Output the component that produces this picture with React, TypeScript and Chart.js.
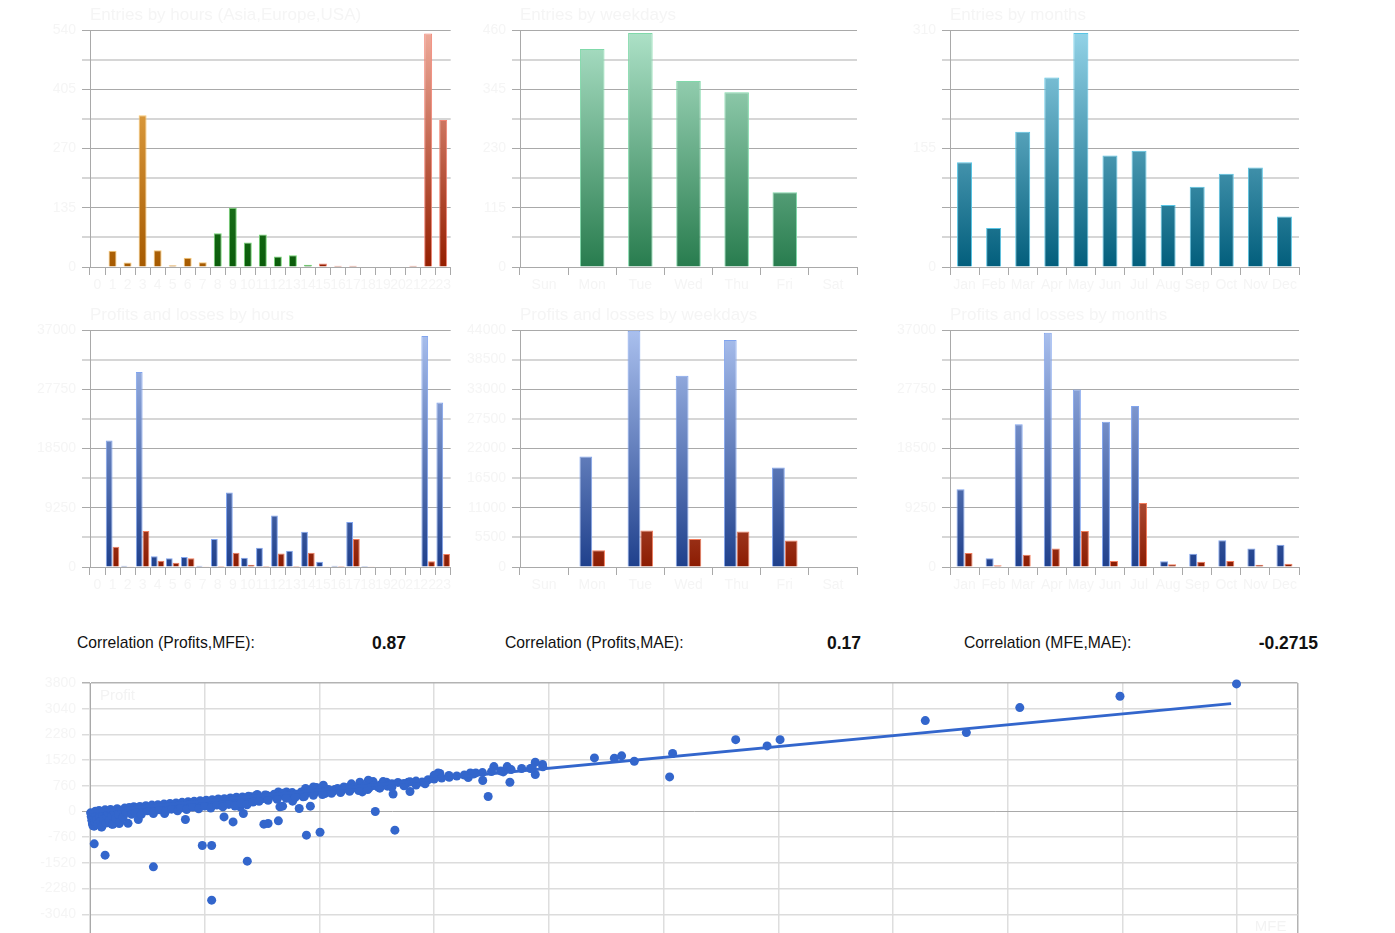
import { useEffect, useRef } from "react";
import { Chart, registerables } from "chart.js";

Chart.register(...registerables);
Chart.defaults.font.family = "'Liberation Sans', Arial, sans-serif";

// ---- categories ----
const HOUR_LABELS = ["0", "1", "2", "3", "4", "5", "6", "7", "8", "9", "10", "11", "12", "13", "14", "15", "16", "17", "18", "19", "20", "21", "22", "23"];
const WEEKDAY_LABELS = ["Sun", "Mon", "Tue", "Wed", "Thu", "Fri", "Sat"];
const MONTH_LABELS = ["Jan", "Feb", "Mar", "Apr", "May", "Jun", "Jul", "Aug", "Sep", "Oct", "Nov", "Dec"];

// ---- entries ----
const ENTRIES_BY_HOUR = [0, 37, 10, 346, 38, 4, 21, 11, 77, 135, 56, 74, 24, 27, 5, 8, 3, 3, 0, 0, 0, 3, 532, 335];
const ENTRIES_BY_WEEKDAY = [0, 423, 454, 361, 339, 145, 0];
const ENTRIES_BY_MONTH = [137, 51, 177, 248, 306, 146, 152, 81, 105, 122, 130, 66];

// ---- profits / losses ----
const PROFIT_BY_HOUR = [0, 19750, 200, 30430, 1670, 1360, 1560, 200, 4380, 11620, 1460, 3020, 8030, 2550, 5520, 830, 200, 7040, 150, 0, 0, 0, 36060, 25690];
const LOSS_BY_HOUR = [0, 3180, 50, 5630, 990, 680, 1360, 100, 150, 2240, 370, 150, 2090, 150, 2240, 100, 150, 4380, 50, 0, 0, 0, 890, 2030];
const PROFIT_BY_WEEKDAY = [0, 20510, 43880, 35510, 42140, 18470, 0];
const LOSS_BY_WEEKDAY = [0, 3100, 6760, 5210, 6570, 4900, 0];
const PROFIT_BY_MONTH = [12140, 1360, 22300, 36580, 27720, 22670, 25120, 890, 2080, 4170, 2870, 3490];
const LOSS_BY_MONTH = [2190, 260, 1930, 2870, 5630, 940, 10010, 420, 830, 940, 370, 520];

// ---- correlations ----
const CORRELATIONS = [
  { label: "Correlation (Profits,MFE):", value: "0.87" },
  { label: "Correlation (Profits,MAE):", value: "0.17" },
  { label: "Correlation (MFE,MAE):", value: "-0.2715" },
];

// ---- scatter: [MFE, Profit] ----
const MFE_PROFIT: [number, number][] = [
  [3798, 3773], [3412, 3407], [3080, 3073], [2903, 2334], [2767, 2689],
  [2286, 2125], [2243, 1939], [2139, 2125], [1930, 1714], [1920, 1022],
  [1803, 1486], [1761, 1646], [1737, 1575], [1671, 1584],
  [1499, 1389], [1475, 1457], [1475, 1093], [1459, 1271], [1391, 866], [1382, 1329],
  [1369, 1170], [1338, 1329], [1319, 443], [1301, 917], [1278, 1141], [1260, 1141],
  [1253, 1005], [1189, 1064], [1159, 1123], [1153, 1141], [1140, 1073],
  [1054, 866], [1060, 591], [1045, 811], [1004, 517], [1010, -552], [945, 0],
  [982, 866], [971, 885], [960, 777], [938, 885], [922, 925], [902, 580], [894, 866],
  [866, 817], [841, 728], [811, 650], [778, 532], [773, 777], [750, 709], [740, 728],
  [762, -612], [717, -700], [730, 157], [714, 680], [706, 433], [695, 502], [693, 89],
  [671, 305], [651, 580], [638, 157], [629, 137], [624, -277], [624, 580], [590, -355],
  [576, -375], [585, 482], [574, 384], [554, 502], [535, 433], [521, -1469], [508, -59],
  [497, 137], [486, 236], [474, -307], [444, -160], [403, -1005], [372, -1005], [403, -2621],
  [316, -236], [247, -59], [210, -1637], [210, -59], [160, -236], [50, -1291], [14, -957],
  [97, -355], [72, -375], [39, -454], [14, -434],
  // dense cluster near the origin
  [2, -40], [4, -150], [6, -260], [8, -360], [10, -420], [12, -90], [14, -200], [16, -310],
  [18, 10], [20, -130], [22, -240], [25, -380], [27, -60], [30, 30], [32, -170], [35, -290],
  [38, -460], [40, -20], [43, -110], [46, -230], [50, 50], [53, -340], [56, -150], [60, -40],
  [64, -260], [68, 60], [72, -120], [76, -380], [80, -10], [85, -200], [90, 80], [95, -90],
  [100, -300], [105, 40], [110, -160], [115, 100], [120, -30], [126, -350], [130, 120], [138, -80],
  // upper band
  [145, 140], [155, 100], [165, 150], [175, 60], [185, 170], [195, 120], [205, 190], [215, 110],
  [225, 200], [235, 150], [245, 220], [255, 130], [265, 240], [275, 180], [285, 250], [295, 200],
  [305, 270], [315, 210], [325, 290], [335, 240], [345, 300], [355, 250], [365, 320], [375, 270],
  [385, 335], [395, 290], [405, 350], [415, 300], [425, 370], [435, 320], [445, 380], [455, 340],
  [465, 400], [475, 350], [485, 420], [495, 370], [505, 430], [515, 390], [525, 450], [535, 400],
  [150, -30], [170, -80], [190, 20], [210, -20], [230, 50], [250, 0], [270, 70], [290, 20],
  [300, 100], [320, 60], [340, 130], [360, 80], [380, 160], [400, 100], [420, 190], [440, 140],
  [460, 210], [480, 160], [500, 250], [520, 200], [540, 280],
  [550, 470], [565, 420], [580, 490], [595, 440], [610, 510], [625, 460], [640, 540], [655, 490],
  [670, 560], [685, 510], [700, 580], [715, 530], [730, 600], [745, 560], [760, 630], [775, 580],
  [790, 650], [805, 600], [820, 680], [835, 630], [850, 700], [865, 660], [880, 720], [895, 680],
  [910, 750], [925, 700], [940, 770], [955, 720], [970, 800], [985, 750], [1000, 820], [1020, 860],
  [1040, 830], [1060, 880], [1080, 900], [1100, 870], [1120, 940], [1140, 960], [1165, 990],
  [1190, 1010], [1215, 1050], [1240, 1080], [1270, 1110], [1300, 1150], [1330, 1180], [1360, 1200],
  [1395, 1240], [1430, 1270], [1465, 1290], [1500, 1320],
  [560, 300], [590, 330], [620, 360], [650, 390], [680, 420], [710, 440], [740, 480], [770, 500],
  [800, 540], [830, 560], [860, 600], [890, 620], [920, 650], [960, 690], [1000, 720], [1040, 760],
  [1080, 780], [1110, 820],
];
const TREND_MFE = [0, 3780];
const TREND_PROFIT = [-10, 3190];
const SCATTER_X_TICKS = [0, 380, 760, 1140, 1520, 1900, 2280, 2660, 3040, 3420, 3800, 4000];

// ---- styling ----
const GRID_DARK = "#a9a9a9";
const GRID_LIGHT = "#d6d6d6";
const FAINT_TEXT = "#f5f5f5";
const Y_AXIS_W = 60;
const X_AXIS_H = 40;
const TOP_PAD = 30;

const ASIA = { top: "#f4b95a", bottom: "#a65a00", border: "#f8c873" };
const EUROPE = { top: "#3d9d3d", bottom: "#0a5c0a", border: "#74d674" };
const USA = { top: "#efab9b", bottom: "#951e00", border: "#f28474" };
const WEEK_GREEN = { top: "#aee2c8", bottom: "#287c4e", border: "#80d9aa" };
const MONTH_TEAL = { top: "#94d4e8", bottom: "#025e7c", border: "#58c4e4" };
const PROFIT_BLUE = { top: "#aac0ee", bottom: "#1f408c", border: "#80a4ee" };
const LOSS_RED = { top: "#f6bcac", bottom: "#8c1c02", border: "#f27c5c" };
const SCATTER_BLUE = "#3366cc";

function gradient(ctx: any, top: string, bottom: string) {
  const area = ctx.chart.chartArea;
  if (!area) return bottom;
  const g = ctx.chart.ctx.createLinearGradient(0, area.top, 0, area.bottom);
  g.addColorStop(0, top);
  g.addColorStop(1, bottom);
  return g;
}

function hourSession(i: number) {
  if (i < 8) return ASIA;
  if (i < 15) return EUROPE;
  return USA;
}

function titlePlugin(text: string) {
  return {
    id: "panelTitle",
    afterDraw(chart: any) {
      const c = chart.ctx;
      c.save();
      c.font = "17px 'Liberation Sans', Arial, sans-serif";
      c.fillStyle = "#f5f5f5";
      c.textBaseline = "middle";
      c.textAlign = "left";
      c.fillText(text, chart.chartArea.left, 15);
      c.restore();
    },
  };
}

type BarOpts = {
  title: string;
  labels: string[];
  datasets: any[];
  max: number;
  step: number;
  labelEvery: number;
  catPct: number;
};

function barConfig(o: BarOpts): any {
  return {
    type: "bar",
    data: { labels: o.labels, datasets: o.datasets },
    plugins: [titlePlugin(o.title)],
    options: {
      animation: false,
      responsive: true,
      maintainAspectRatio: false,
      events: [],
      layout: { padding: { top: TOP_PAD, right: 2, left: 0, bottom: 0 } },
      plugins: { legend: { display: false }, tooltip: { enabled: false }, title: { display: false } },
      datasets: { bar: { categoryPercentage: o.catPct, barPercentage: 1 } },
      scales: {
        x: {
          grid: { offset: true, drawOnChartArea: false, tickLength: 8, color: GRID_DARK, lineWidth: 1 },
          border: { color: GRID_DARK },
          ticks: { autoSkip: false, maxRotation: 0, minRotation: 0, color: FAINT_TEXT, font: { size: 14 }, padding: 2 },
          afterFit: (s: any) => {
            s.height = X_AXIS_H;
          },
        },
        y: {
          min: 0,
          max: o.max,
          ticks: {
            stepSize: o.step,
            autoSkip: false,
            color: FAINT_TEXT,
            font: { size: 14 },
            padding: 6,
            callback: (v: any, i: number) => (i % o.labelEvery === 0 ? String(v) : ""),
          },
          grid: {
            color: (c: any) => (c.index % 2 === 0 ? GRID_DARK : GRID_LIGHT),
            lineWidth: (c: any) => (c.index % 2 === 0 ? 1 : 2),
            tickLength: 8,
          },
          border: { color: GRID_DARK, width: 1 },
          afterFit: (s: any) => {
            s.width = Y_AXIS_W;
          },
        },
      },
    },
  };
}

function singleSet(values: number[], pal: { top: string; bottom: string; border: string }) {
  return {
    data: values,
    backgroundColor: (ctx: any) => gradient(ctx, pal.top, pal.bottom),
    borderColor: pal.border,
    borderWidth: 1,
  };
}

function profitLossSets(profits: number[], losses: number[]) {
  return [singleSet(profits, PROFIT_BLUE), singleSet(losses, LOSS_RED)];
}

function scatterConfig(): any {
  return {
    type: "scatter",
    data: {
      datasets: [
        {
          data: TREND_MFE.map((x, i) => ({ x, y: TREND_PROFIT[i] })),
          showLine: true,
          borderColor: SCATTER_BLUE,
          borderWidth: 3,
          pointRadius: 0,
          order: 0,
        },
        {
          data: MFE_PROFIT.map(([x, y]) => ({ x, y })),
          backgroundColor: SCATTER_BLUE,
          borderWidth: 0,
          pointRadius: 4.5,
          order: 1,
          clip: false,
        },
      ],
    },
    plugins: [
      {
        id: "axisNames",
        afterDraw(chart: any) {
          const c = chart.ctx;
          const a = chart.chartArea;
          c.save();
          c.font = "15px 'Liberation Sans', Arial, sans-serif";
          c.fillStyle = "#f3f3f3";
          c.textBaseline = "middle";
          c.textAlign = "left";
          c.fillText("Profit", a.left + 10, a.top + 13);
          c.textAlign = "right";
          c.fillText("MFE", a.right - 11, 927 - 653);
          c.restore();
        },
      },
    ],
    options: {
      animation: false,
      responsive: true,
      maintainAspectRatio: false,
      events: [],
      layout: { padding: { top: TOP_PAD, right: 2, left: 0, bottom: 0 } },
      plugins: { legend: { display: false }, tooltip: { enabled: false } },
      scales: {
        x: {
          type: "linear",
          min: 0,
          max: 4000,
          afterBuildTicks: (s: any) => {
            s.ticks = SCATTER_X_TICKS.map((v) => ({ value: v }));
          },
          ticks: { display: false },
          grid: {
            color: (c: any) => (c.tick && c.tick.value === 4000 ? "#b3b3b3" : "#dedede"),
            lineWidth: 1.5,
            drawTicks: false,
          },
          border: { color: GRID_DARK },
          afterFit: (s: any) => {
            s.height = X_AXIS_H;
          },
        },
        y: {
          min: -3800,
          max: 3800,
          ticks: { stepSize: 760, color: FAINT_TEXT, font: { size: 14 }, padding: 6, callback: (v: any) => String(v) },
          grid: {
            color: (c: any) => {
              const v = c.tick ? c.tick.value : 1;
              if (v === 0) return GRID_DARK;
              if (v === 3800) return "#b3b3b3";
              return "#dcdcdc";
            },
            lineWidth: (c: any) => (c.tick && c.tick.value === 0 ? 1 : 1.5),
            tickLength: 8,
          },
          border: { color: GRID_DARK },
          afterFit: (s: any) => {
            s.width = Y_AXIS_W;
          },
        },
      },
    },
  };
}

function ChartPanel({ plotLeft, plotTop, plotWidth, plotHeight, make }: { plotLeft: number; plotTop: number; plotWidth: number; plotHeight: number; make: () => any }) {
  const canvasRef = useRef<HTMLCanvasElement | null>(null);
  useEffect(() => {
    if (!canvasRef.current) return;
    const chart = new Chart(canvasRef.current, make());
    return () => chart.destroy();
  }, []);
  return (
    <div
      style={{
        position: "absolute",
        left: plotLeft - Y_AXIS_W,
        top: plotTop - TOP_PAD,
        width: plotWidth + Y_AXIS_W + 2,
        height: plotHeight + TOP_PAD + X_AXIS_H,
      }}
    >
      <canvas ref={canvasRef} />
    </div>
  );
}

const corrFont = "'Liberation Sans', Arial, sans-serif";
const CORR_LABEL_X = [77, 505, 964];
const CORR_VALUE_END = [406, 861, 1318];

export default function App() {
  return (
    <div style={{ position: "absolute", left: 0, top: 0, width: 1395, height: 933, overflow: "hidden", background: "#fff" }}>
      <ChartPanel
        plotLeft={90}
        plotTop={30}
        plotWidth={361}
        plotHeight={237}
        make={() =>
          barConfig({
            title: "Entries by hours (Asia,Europe,USA)",
            labels: HOUR_LABELS,
            datasets: [
              {
                data: ENTRIES_BY_HOUR,
                backgroundColor: (ctx: any) => {
                  const p = hourSession(ctx.dataIndex);
                  return gradient(ctx, p.top, p.bottom);
                },
                borderColor: (ctx: any) => hourSession(ctx.dataIndex).border,
                borderWidth: 1,
              },
            ],
            max: 540,
            step: 67.5,
            labelEvery: 2,
            catPct: 0.53,
          })
        }
      />
      <ChartPanel
        plotLeft={520}
        plotTop={30}
        plotWidth={337}
        plotHeight={237}
        make={() =>
          barConfig({
            title: "Entries by weekdays",
            labels: WEEKDAY_LABELS,
            datasets: [singleSet(ENTRIES_BY_WEEKDAY, WEEK_GREEN)],
            max: 460,
            step: 57.5,
            labelEvery: 2,
            catPct: 0.51,
          })
        }
      />
      <ChartPanel
        plotLeft={950}
        plotTop={30}
        plotWidth={349}
        plotHeight={237}
        make={() =>
          barConfig({
            title: "Entries by months",
            labels: MONTH_LABELS,
            datasets: [singleSet(ENTRIES_BY_MONTH, MONTH_TEAL)],
            max: 310,
            step: 38.75,
            labelEvery: 4,
            catPct: 0.515,
          })
        }
      />
      <ChartPanel
        plotLeft={90}
        plotTop={330}
        plotWidth={361}
        plotHeight={237}
        make={() =>
          barConfig({
            title: "Profits and losses by hours",
            labels: HOUR_LABELS,
            datasets: profitLossSets(PROFIT_BY_HOUR, LOSS_BY_HOUR),
            max: 37000,
            step: 4625,
            labelEvery: 2,
            catPct: 0.9,
          })
        }
      />
      <ChartPanel
        plotLeft={520}
        plotTop={330}
        plotWidth={337}
        plotHeight={237}
        make={() =>
          barConfig({
            title: "Profits and losses by weekdays",
            labels: WEEKDAY_LABELS,
            datasets: profitLossSets(PROFIT_BY_WEEKDAY, LOSS_BY_WEEKDAY),
            max: 44000,
            step: 5500,
            labelEvery: 1,
            catPct: 0.53,
          })
        }
      />
      <ChartPanel
        plotLeft={950}
        plotTop={330}
        plotWidth={349}
        plotHeight={237}
        make={() =>
          barConfig({
            title: "Profits and losses by months",
            labels: MONTH_LABELS,
            datasets: profitLossSets(PROFIT_BY_MONTH, LOSS_BY_MONTH),
            max: 37000,
            step: 4625,
            labelEvery: 2,
            catPct: 0.55,
          })
        }
      />

      {CORRELATIONS.map((c, i) => (
        <div key={c.label}>
          <div
            style={{
              position: "absolute",
              left: CORR_LABEL_X[i],
              top: 633,
              lineHeight: "20px",
              fontFamily: corrFont,
              fontSize: "15.7px",
              color: "#111",
              whiteSpace: "nowrap",
            }}
          >
            {c.label}
          </div>
          <div
            style={{
              position: "absolute",
              left: CORR_VALUE_END[i] - 120,
              width: 120,
              textAlign: "right",
              top: 633,
              lineHeight: "20px",
              fontFamily: corrFont,
              fontSize: "17.5px",
              fontWeight: "bold",
              color: "#111",
              whiteSpace: "nowrap",
            }}
          >
            {c.value}
          </div>
        </div>
      ))}

      <ChartPanel plotLeft={90} plotTop={683} plotWidth={1210} plotHeight={257} make={scatterConfig} />
    </div>
  );
}
